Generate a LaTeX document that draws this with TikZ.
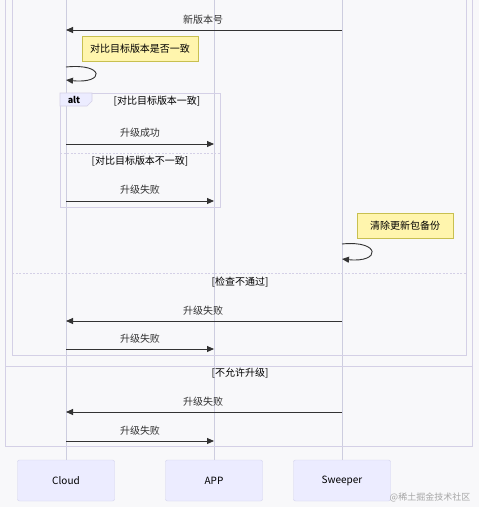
\documentclass[tikz,border=0pt]{standalone}
\usepackage{fontspec}
\setmainfont{Noto Sans CJK SC}
\usetikzlibrary{arrows.meta, positioning, calc}
\definecolor{bgcol}{HTML}{F8F8FA}
\definecolor{actorfill}{HTML}{ECECFF}
\definecolor{actorline}{HTML}{D2D2EC}
\definecolor{lifeline}{HTML}{CDCDDF}
\definecolor{framecol}{HTML}{D4D0E6}
\definecolor{notefill}{HTML}{FFF5AD}
\definecolor{noteline}{HTML}{C8C050}
\definecolor{msgcol}{HTML}{333333}

\begin{document}
\begin{tikzpicture}[
  x=1pt, y=-1pt,
  actor/.style={draw=actorline, fill=actorfill, rounded corners=2pt, minimum width=97pt, minimum height=41pt, font=\fontsize{10}{12}\selectfont, text=black},
  note/.style={draw=noteline, fill=notefill, minimum height=25pt, inner xsep=7pt, font=\fontsize{10}{12}\selectfont, text=black},
  msglabel/.style={font=\fontsize{10}{12}\selectfont, text=msgcol, inner sep=1pt},
  condlabel/.style={font=\fontsize{10}{12}\selectfont, text=black, inner sep=1pt},
  msg/.style={-{Triangle[length=7pt, width=6pt]}, msgcol, line width=0.9pt},
  frameline/.style={draw=framecol, line width=0.7pt},
  elseline/.style={draw=framecol, line width=0.8pt, dash pattern=on 2pt off 1.5pt}
]
\fill[bgcol] (0,0) rectangle (479,507);
\useasboundingbox (0,0) rectangle (479,507);

% actors at the bottom
\node[actor] (cloud) at (66,480.5) {Cloud};
\node[actor] (app) at (214,480.5) {APP};
\node[actor] (sweeper) at (342,480.5) {Sweeper};

% lifelines
\coordinate (cloudtop) at (66,0);
\coordinate (apptop) at (214,0);
\coordinate (sweepertop) at (342,0);
\draw[lifeline, line width=0.7pt] (cloudtop) -- (cloud.north);
\draw[lifeline, line width=0.7pt] (apptop) -- (app.north);
\draw[lifeline, line width=0.7pt] (sweepertop) -- (sweeper.north);

% outer frames
\draw[frameline] (5,0) -- (5,446) -- (472,446) -- (472,0);
\draw[frameline] (12,0) -- (12,355) -- (466,355) -- (466,0);
\draw[elseline] (12,273) -- (466,273);
\draw[frameline] (5,366) -- (472,366);

% alt block
\draw[frameline] (60,93) rectangle (220,207);
\draw[frameline, fill=actorfill] (60,93) -- (92,93) -- (92,101) -- (87,106) -- (60,106) -- cycle;
\node[font=\fontsize{9}{11}\selectfont\bfseries, text=black, inner sep=0pt] (altlabel) at (74,100) {alt};
\node[condlabel] (condok) at (157,101) {[对比目标版本一致]};
\draw[elseline] (60,153) -- (220,153);
\node[condlabel] (condnotok) at (140,161) {[对比目标版本不一致]};

% new version number
\coordinate (sw1) at (342,30);
\coordinate (cl1) at (66,30);
\node[msglabel] (m1) at (203,20) {新版本号};
\draw[msg] (sw1) -- (cl1);

\node[note, minimum width=116pt] (n1) at (140,48.5) {对比目标版本是否一致};
\coordinate (cl2) at (66,67);
\coordinate (cl3) at (66,80);
\draw[msg] (cl2) .. controls (105,63) and (105,84) .. (cl3);

% alt branches
\coordinate (cl4) at (66,144);
\coordinate (ap4) at (214,144);
\node[msglabel] (m2) at (140,133) {升级成功};
\draw[msg] (cl4) -- (ap4);

\coordinate (cl5) at (66,201);
\coordinate (ap5) at (214,201);
\node[msglabel] (m3) at (140,190) {升级失败};
\draw[msg] (cl5) -- (ap5);

% cleanup on sweeper
\node[note, minimum width=96pt] (n2) at (405,225.5) {清除更新包备份};
\coordinate (sw2) at (342,244);
\coordinate (sw3) at (342,259);
\draw[msg] (sw2) .. controls (381,240) and (381,263) .. (sw3);

% check failed
\node[condlabel] (condcheck) at (240,282) {[检查不通过]};
\coordinate (sw6) at (342,321);
\coordinate (cl6) at (66,321);
\node[msglabel] (m4) at (203,311) {升级失败};
\draw[msg] (sw6) -- (cl6);
\coordinate (cl7) at (66,349);
\coordinate (ap7) at (214,349);
\node[msglabel] (m5) at (140,339) {升级失败};
\draw[msg] (cl7) -- (ap7);

% not allowed
\node[condlabel] (condallow) at (240,373) {[不允许升级]};
\coordinate (sw8) at (342,412);
\coordinate (cl8) at (66,412);
\node[msglabel] (m6) at (203,402) {升级失败};
\draw[msg] (sw8) -- (cl8);
\coordinate (cl9) at (66,441);
\coordinate (ap9) at (214,441);
\node[msglabel] (m7) at (140,431) {升级失败};
\draw[msg] (cl9) -- (ap9);

% watermark
\node[font=\fontsize{9}{11}\selectfont, text=black!35, inner sep=0pt] (mark) at (430,497) {@稀土掘金技术社区};
\end{tikzpicture}
\end{document}
